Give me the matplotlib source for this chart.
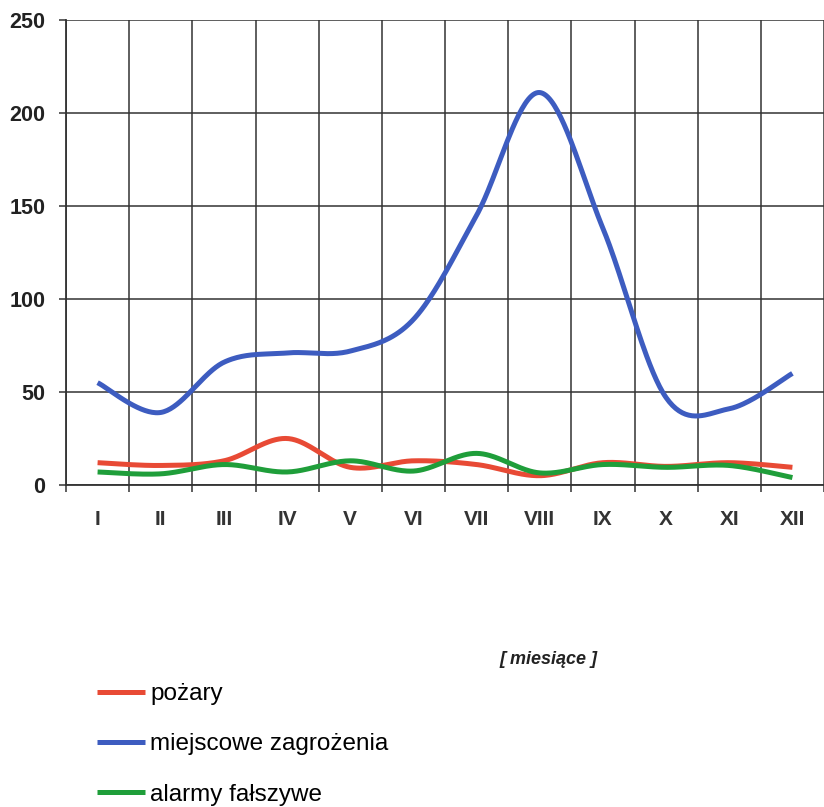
import numpy as np
import matplotlib
matplotlib.use("Agg")
import matplotlib.pyplot as plt

months = ["I", "II", "III", "IV", "V", "VI", "VII", "VIII", "IX", "X", "XI", "XII"]
pozary = [12, 10.5, 13, 25, 9.5, 13, 11, 5, 12, 10, 12, 9.5]
miejscowe = [55, 39, 66, 71, 72, 89, 145, 211, 138, 47, 41, 60]
alarmy = [7, 6, 11, 7, 13, 7.5, 17, 6.5, 11, 9.5, 10.5, 4]

series_names = ["pożary", "miejscowe zagrożenia", "alarmy fałszywe"]
series_colors = ["#e84a35", "#3d5cc0", "#1f9e3a"]
y_ticks = [0, 50, 100, 150, 200, 250]
x_title = "[ miesiące ]"

plt.rcParams['font.family'] = ['Liberation Sans', 'DejaVu Sans']


def smooth(xs, ys, n=40):
    """Catmull-Rom style smoothing (like spreadsheet 'smoothed line')."""
    xs = np.asarray(xs, float)
    ys = np.asarray(ys, float)
    px = np.concatenate([[xs[0]], xs, [xs[-1]]])
    py = np.concatenate([[ys[0]], ys, [ys[-1]]])
    outx, outy = [], []
    t = np.linspace(0, 1, n)
    for i in range(1, len(px) - 2):
        p0 = np.array([px[i - 1], py[i - 1]])
        p1 = np.array([px[i], py[i]])
        p2 = np.array([px[i + 1], py[i + 1]])
        p3 = np.array([px[i + 2], py[i + 2]])
        c1 = p1 + (p2 - p0) / 6.0
        c2 = p2 - (p3 - p1) / 6.0
        b = ((1 - t) ** 3)[:, None] * p1 + (3 * (1 - t) ** 2 * t)[:, None] * c1 \
            + (3 * (1 - t) * t ** 2)[:, None] * c2 + (t ** 3)[:, None] * p2
        outx.extend(b[:, 0])
        outy.extend(b[:, 1])
    return np.array(outx), np.array(outy)


fig = plt.figure(figsize=(8.24, 8.07), dpi=100)
ax = fig.add_axes([66 / 824, 1 - 485 / 807, 1 - 66 / 824, 465 / 807])

x = np.arange(len(months))
handles = []
for vals, name, col in zip([pozary, miejscowe, alarmy], series_names, series_colors):
    sx, sy = smooth(x, vals)
    h, = ax.plot(sx, sy, color=col, lw=3.6, solid_capstyle='butt', label=name, zorder=3)
    handles.append(h)

ax.set_xlim(-0.5, len(months) - 0.5)
ax.set_ylim(0, 250)
ax.set_yticks(y_ticks)
ax.set_yticklabels([str(v) for v in y_ticks], fontsize=15.5, fontweight='bold', color='#222222')
ax.set_xticks(x)
ax.set_xticklabels(months, fontsize=15, fontweight='bold', color='#333333')
ax.set_xticks(np.arange(-0.5, len(months) + 0.5, 1), minor=True)
ax.tick_params(axis='x', which='major', length=0, pad=18)
ax.tick_params(axis='x', which='minor', length=5, width=1.1, color='#333333', direction='out')
ax.tick_params(axis='y', which='major', length=5, width=1.1, color='#333333', pad=10)

ax.grid(True, which='major', axis='y', color='#333333', lw=1.1)
ax.grid(True, which='minor', axis='x', color='#333333', lw=1.1)
ax.set_axisbelow(True)
for s in ['top', 'right']:
    ax.spines[s].set_visible(False)
for s in ['left', 'bottom']:
    ax.spines[s].set_color('#333333')
    ax.spines[s].set_linewidth(1.3)

fig.text(548 / 824, 1 - 660 / 807, x_title, fontsize=13, fontweight='bold', style='italic',
         ha='center', va='center', color='#222222')

fig.legend(handles=handles, loc='upper left', bbox_to_anchor=(97 / 824, 1 - 683 / 807),
           frameon=False, fontsize=17.5, handlelength=1.98, handletextpad=0.2,
           labelspacing=1.17, borderaxespad=0, borderpad=0)

fig.savefig("out.png", dpi=100)
